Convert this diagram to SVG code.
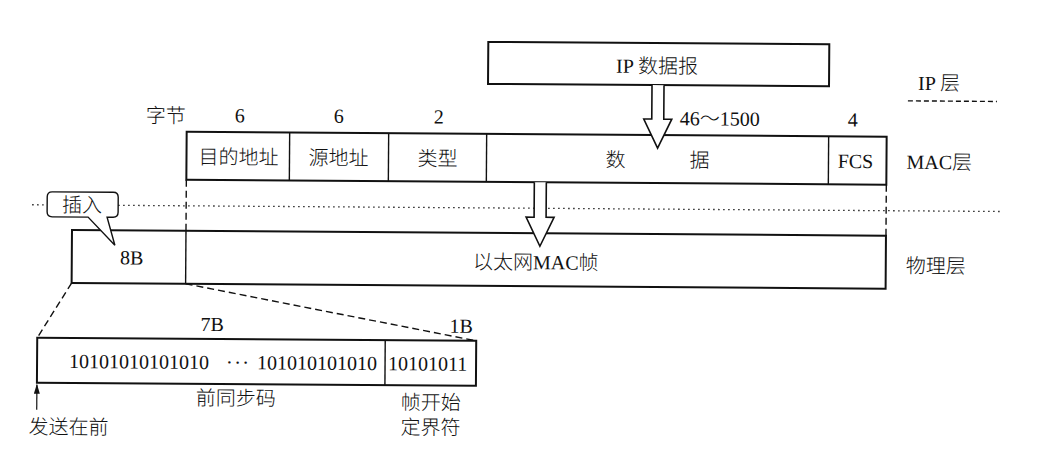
<svg xmlns="http://www.w3.org/2000/svg" width="1049" height="455" viewBox="0 0 1049 455">
  <style>
    .t { font-family: 'Liberation Serif', 'Noto Sans CJK SC', serif; font-size: 20px; fill: #111; font-weight: 300; }
    .c { text-anchor: middle; }
    .box { fill: #fff; stroke: #111; stroke-width: 2; }
    .div { stroke: #111; stroke-width: 1.4; fill: none; }
    .dash { stroke: #111; stroke-width: 1.4; fill: none; stroke-dasharray: 7 4; }
    .dot { stroke: #222; stroke-width: 1.3; fill: none; stroke-dasharray: 1.5 3.5; }
    .harrow { fill: #fff; stroke: #111; stroke-width: 1.6; stroke-linejoin: miter; }
  </style>
  <defs>
    <marker id="up" viewBox="0 0 10 6" refX="9" refY="3" markerWidth="10" markerHeight="6" markerUnits="userSpaceOnUse" orient="auto">
      <path d="M0,0 L10,3 L0,6 Z" fill="#111"/>
    </marker>
  </defs>
  <rect width="1049" height="455" fill="#fff"/>
  <g transform="rotate(0.4 500 230)">
    <g id="layer-lines">
      <line class="dot" x1="32" y1="208" x2="47" y2="208"/>
      <line class="dot" x1="118" y1="208" x2="1002" y2="208"/>
      <line class="dash" x1="907" y1="98" x2="996" y2="98" style="stroke-dasharray:5 3"/>
    </g>

    <g id="ip-datagram">
      <rect class="box" x="487" y="42" width="341" height="42"/>
      <text class="t c" x="656" y="72">IP 数据报</text>
    </g>

    <g id="mac-frame">
      <rect class="box" x="186" y="134" width="700" height="48"/>
      <line class="div" x1="289" y1="134" x2="289" y2="182"/>
      <line class="div" x1="388" y1="134" x2="388" y2="182"/>
      <line class="div" x1="486" y1="134" x2="486" y2="182"/>
      <line class="div" x1="828" y1="134" x2="828" y2="182"/>
      <text class="t c" x="238" y="166">目的地址</text>
      <text class="t c" x="338" y="166">源地址</text>
      <text class="t c" x="437" y="166">类型</text>
      <text class="t c" x="615" y="166">数</text>
      <text class="t c" x="699" y="166">据</text>
      <text class="t c" x="855" y="165.5">FCS</text>
    </g>

    <g id="byte-counts">
      <text class="t c" x="165" y="125">字节</text>
      <text class="t c" x="239" y="124">6</text>
      <text class="t c" x="338" y="124">6</text>
      <text class="t c" x="438" y="124">2</text>
      <text class="t" x="679" y="124">46～1500</text>
      <text class="t c" x="852" y="124">4</text>
    </g>

    <g id="physical-frame">
      <rect class="box" x="72" y="233" width="814" height="53"/>
      <line class="div" x1="186" y1="233" x2="186" y2="286"/>
      <text class="t c" x="132" y="267">8B</text>
      <text class="t c" x="536" y="269">以太网MAC帧</text>
    </g>

    <g id="layer-labels">
      <text class="t" x="917" y="87">IP 层</text>
      <text class="t" x="906" y="166">MAC层</text>
      <text class="t" x="906" y="270">物理层</text>
    </g>

    <g id="callout-insert">
      <path class="harrow" d="M52,195 H113 Q118,195 118,200 V215 Q118,220 113,220 H107 L115,248 L88,220 H52 Q47,220 47,215 V200 Q47,195 52,195 Z" style="stroke-width:1.4"/>
      <text class="t c" x="82" y="215">插入</text>
    </g>

    <g id="preamble">
      <rect class="box" x="38" y="341" width="439" height="45"/>
      <line class="div" x1="386" y1="341" x2="386" y2="386"/>
      <text class="t" x="70" y="371">10101010101010</text>
      <text class="t" x="227" y="371" style="letter-spacing:1.5px">···</text>
      <text class="t" x="258" y="371">101010101010</text>
      <text class="t" x="389" y="371">10101011</text>
      <text class="t c" x="213" y="333">7B</text>
      <text class="t c" x="462" y="333">1B</text>
      <text class="t c" x="237" y="407">前同步码</text>
      <text class="t c" x="432" y="410">帧开始</text>
      <text class="t c" x="432" y="435">定界符</text>
      <text class="t c" x="70" y="437">发送在前</text>
    </g>

    <g id="connectors">
      <line class="dash" x1="186" y1="182" x2="186" y2="233"/>
      <line class="dash" x1="886" y1="182" x2="886" y2="233"/>
      <line class="dash" x1="72" y1="286" x2="38" y2="341"/>
      <line class="dash" x1="186" y1="286" x2="477" y2="341"/>
      <path class="harrow" d="M651,84 V118 H643 L657,147 L671,118 H663 V84"/>
      <path class="harrow" d="M534,182 V217 H526 L540,246 L554,217 H546 V182"/>
      <line x1="38" y1="413" x2="38" y2="388" stroke="#111" stroke-width="1.2" marker-end="url(#up)"/>
    </g>
  </g>
</svg>
